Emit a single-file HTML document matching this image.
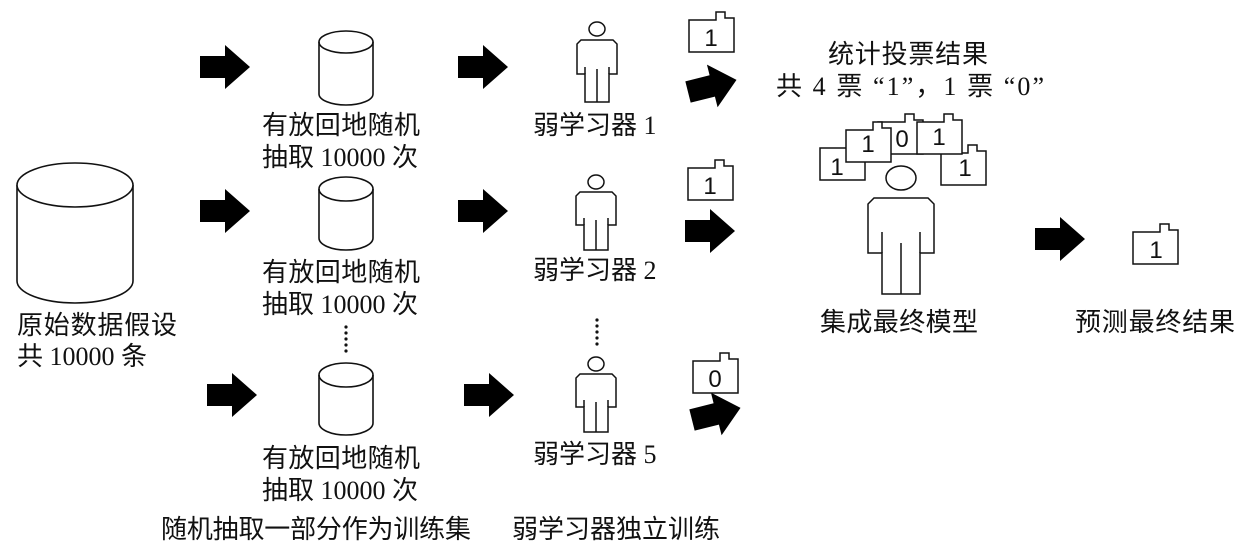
<!DOCTYPE html>
<html><head><meta charset="utf-8"><style>
html,body{margin:0;padding:0;background:#fff;}
svg{display:block;}
text{font-family:"Liberation Serif","Noto Sans CJK SC",serif;font-size:26px;fill:#111;}
.s{font-family:"Liberation Sans","Noto Sans CJK SC",sans-serif;font-size:24px;}
</style></head><body>
<svg width="1238" height="554" viewBox="0 0 1238 554" xmlns="http://www.w3.org/2000/svg">
<defs>
<path id="ar" d="M0,-11 H25 V-22 L50,0 L25,22 V11 H0 Z" fill="#000"/>
<g id="doc" fill="#fff" stroke="#111" stroke-width="1.5"><path d="M0,8 H27 V0 H36 V6 H45 V40 H0 Z"/></g>
</defs>
<g fill="none" stroke="#111" stroke-width="1.6">
<path d="M17,185 V281 A58,22 0 0 0 133,281 V185" fill="#fff"/>
<ellipse cx="75" cy="185" rx="58" ry="22" fill="#fff"/>
<path d="M319,42 V94 A27,11 0 0 0 373,94 V42"/><ellipse cx="346" cy="42" rx="27" ry="11"/>
<path d="M319,189 V238 A27,12 0 0 0 373,238 V189"/><ellipse cx="346" cy="189" rx="27" ry="12"/>
<path d="M319,375 V423 A27,12 0 0 0 373,423 V375"/><ellipse cx="346" cy="375" rx="27" ry="12"/>
</g>
<g fill="#111">
<circle cx="346" cy="327" r="1.6"/><circle cx="346" cy="333" r="1.6"/><circle cx="346" cy="339" r="1.6"/><circle cx="346" cy="345" r="1.6"/><circle cx="346" cy="351" r="1.6"/>
<circle cx="597" cy="320" r="1.6"/><circle cx="597" cy="326" r="1.6"/><circle cx="597" cy="332" r="1.6"/><circle cx="597" cy="338" r="1.6"/><circle cx="597" cy="344" r="1.6"/>
</g>
<use href="#ar" transform="translate(200,67)"/>
<use href="#ar" transform="translate(200,211)"/>
<use href="#ar" transform="translate(207,395)"/>
<use href="#ar" transform="translate(458,67)"/>
<use href="#ar" transform="translate(458,211)"/>
<use href="#ar" transform="translate(464,395)"/>
<use href="#ar" transform="translate(688,92) rotate(-14)"/>
<use href="#ar" transform="translate(685,231)"/>
<use href="#ar" transform="translate(692,420) rotate(-14)"/>
<use href="#ar" transform="translate(1035,239)"/>
<g fill="#fff" stroke="#111" stroke-width="1.5">
<g transform="translate(597,29)"><ellipse cx="0" cy="0" rx="8" ry="7"/><path d="M-16,11 H16 L20,15 V45 H12 V73 H-12 V45 H-20 V15 Z"/><path d="M-12,38 V45 M12,38 V45 M0,40 V73"/></g>
<g transform="translate(596,182)"><ellipse cx="0" cy="0" rx="8" ry="7"/><path d="M-16,10 H16 L20,14 V43 H12 V68 H-12 V43 H-20 V14 Z"/><path d="M-12,36 V43 M12,36 V43 M0,38 V68"/></g>
<g transform="translate(596,364)"><ellipse cx="0" cy="0" rx="8" ry="7"/><path d="M-16,10 H16 L20,14 V43 H12 V68 H-12 V43 H-20 V14 Z"/><path d="M-12,36 V43 M12,36 V43 M0,38 V68"/></g>
<g transform="translate(901,178)"><ellipse cx="0" cy="0" rx="15" ry="12"/><path d="M-27,20 H27 L33,26 V75 H19 V116 H-19 V75 H-33 V26 Z"/><path d="M-19,54 V75 M19,54 V75 M0,65 V116"/></g>
</g>
<use href="#doc" transform="translate(689,12)"/><text class="s" x="711" y="46" text-anchor="middle">1</text>
<use href="#doc" transform="translate(688,160)"/><text class="s" x="710" y="194" text-anchor="middle">1</text>
<use href="#doc" transform="translate(693,353)"/><text class="s" x="715" y="387" text-anchor="middle">0</text>
<use href="#doc" transform="translate(1133,224)"/><text class="s" x="1156" y="258" text-anchor="middle">1</text>
<use href="#doc" transform="translate(820,140)"/><text class="s" x="837" y="175" text-anchor="middle">1</text>
<use href="#doc" transform="translate(878,114)"/><text class="s" x="902" y="147" text-anchor="middle">0</text>
<use href="#doc" transform="translate(846,122)"/><text class="s" x="868" y="152" text-anchor="middle">1</text>
<use href="#doc" transform="translate(941,145)"/><text class="s" x="965" y="176" text-anchor="middle">1</text>
<use href="#doc" transform="translate(917,114)"/><text class="s" x="939" y="145" text-anchor="middle">1</text>
<text x="17" y="334" textLength="160">原始数据假设</text>
<text x="17" y="365">共 10000 条</text>
<text x="262" y="134" textLength="158">有放回地随机</text>
<text x="262" y="166">抽取 10000 次</text>
<text x="262" y="281" textLength="158">有放回地随机</text>
<text x="262" y="313">抽取 10000 次</text>
<text x="262" y="467" textLength="158">有放回地随机</text>
<text x="262" y="499">抽取 10000 次</text>
<text x="533" y="134">弱学习器 1</text>
<text x="533" y="279">弱学习器 2</text>
<text x="533" y="463">弱学习器 5</text>
<text x="828" y="63" textLength="160">统计投票结果</text>
<text x="776" y="95" textLength="268" lengthAdjust="spacing">共 4 票 “1”，1 票 “0”</text>
<text x="820" y="331" textLength="158">集成最终模型</text>
<text x="1075" y="331" textLength="160">预测最终结果</text>
<text x="161" y="538" textLength="310">随机抽取一部分作为训练集</text>
<text x="512" y="538" textLength="208">弱学习器独立训练</text>
</svg>
</body></html>
